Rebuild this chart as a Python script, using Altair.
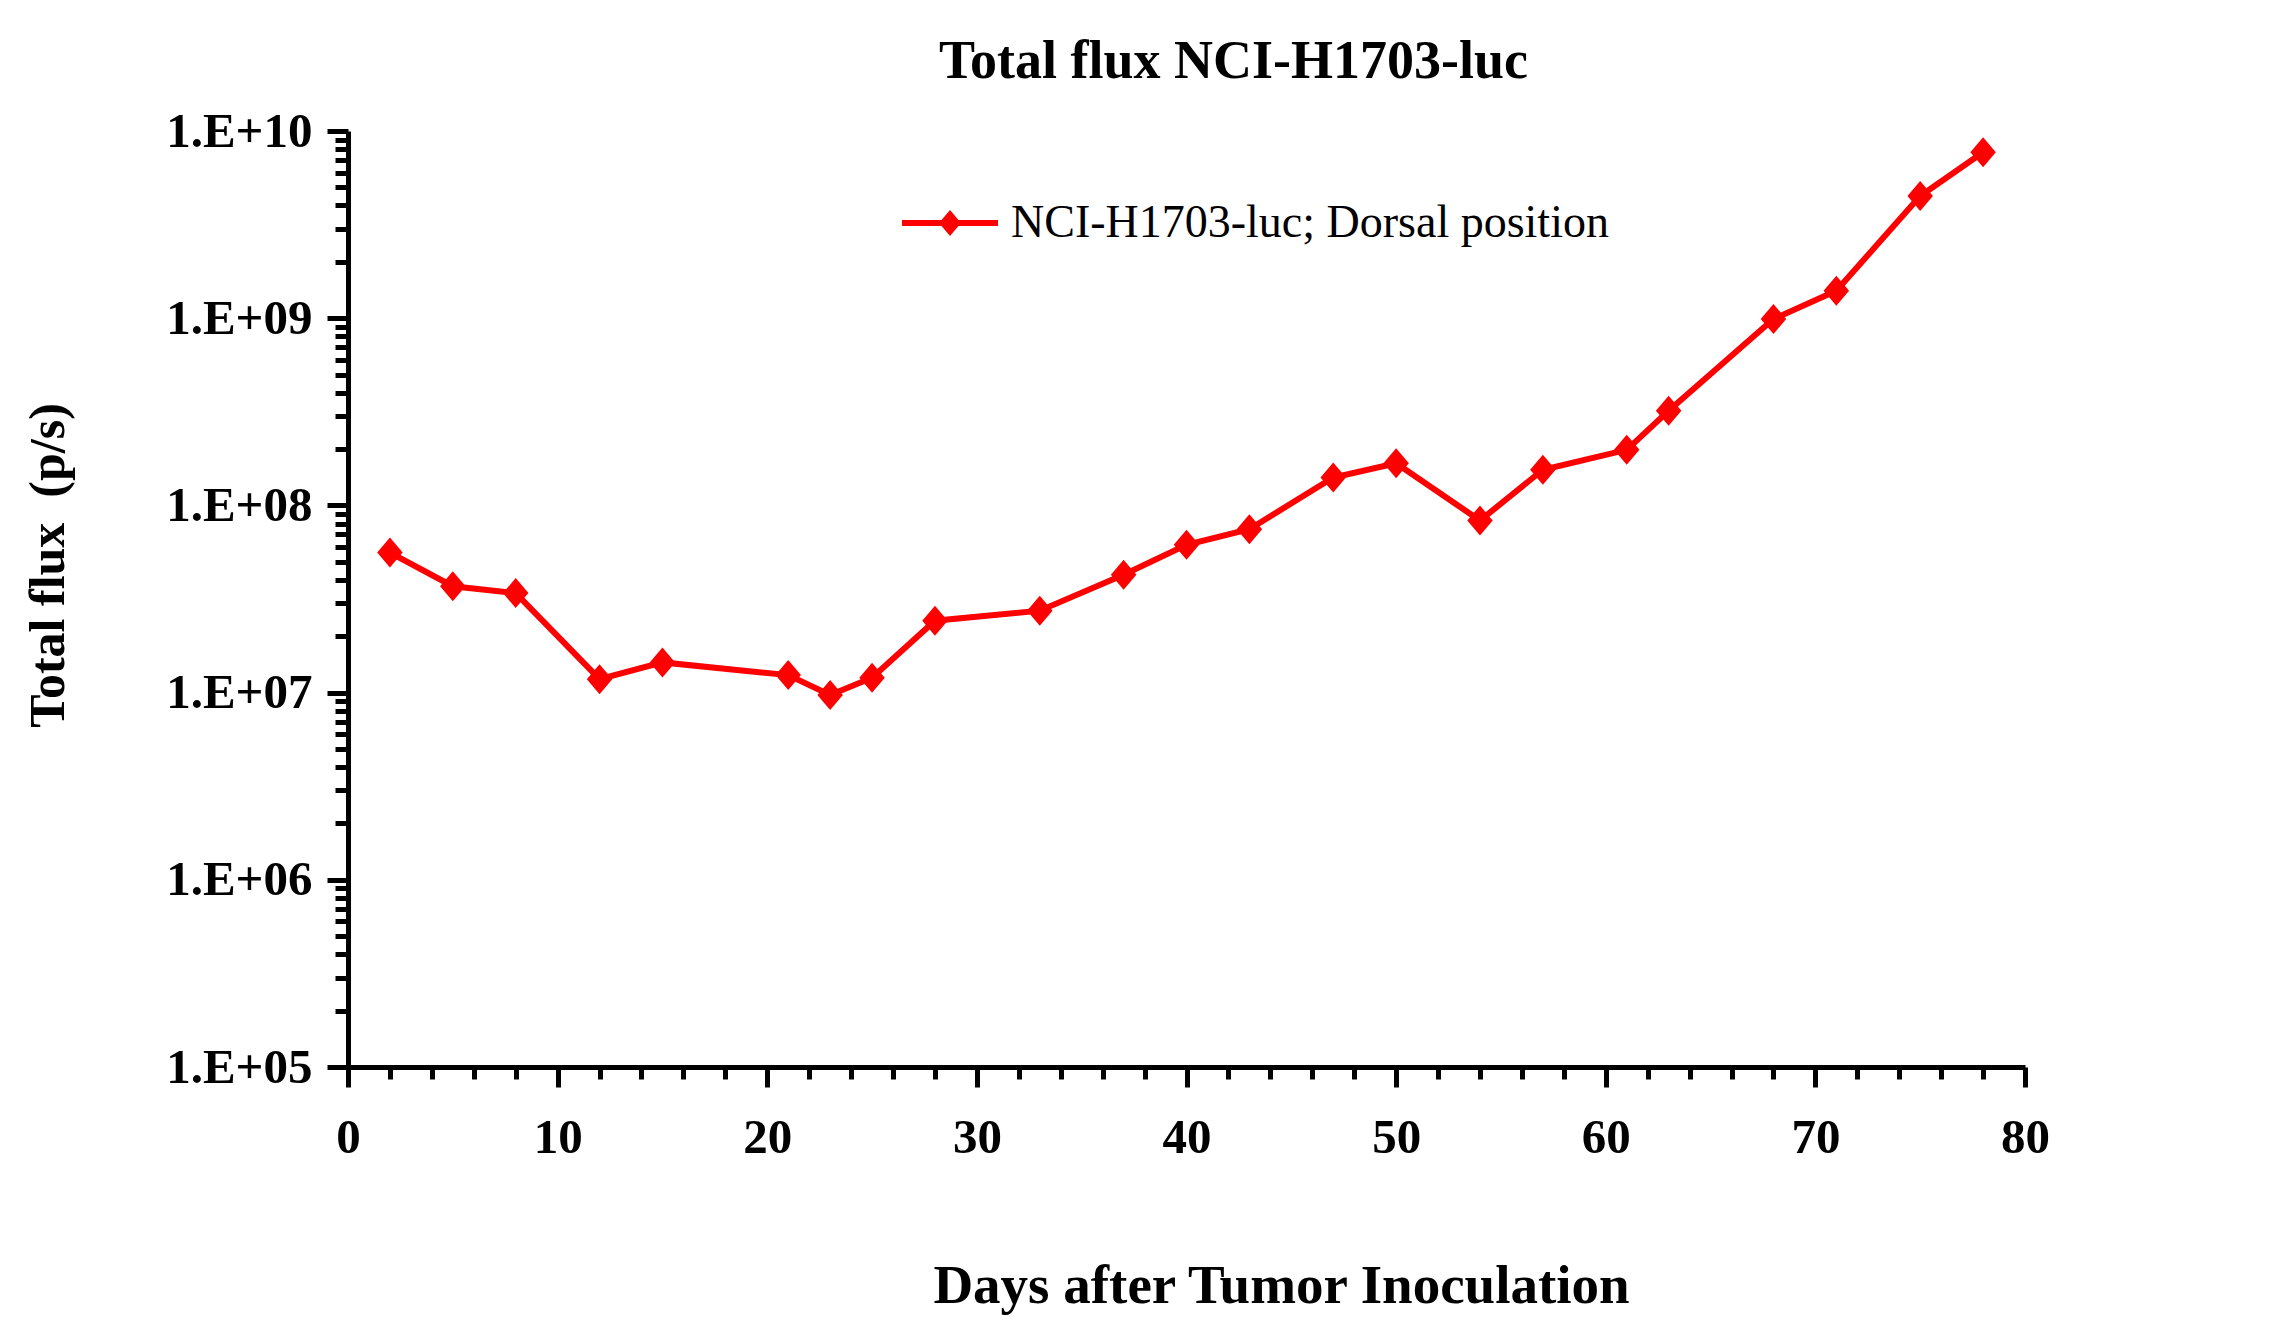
import altair as alt
import pandas as pd

# ---- data ----
days = [2, 5, 8, 12, 15, 21, 23, 25, 28, 33, 37, 40, 43, 47, 50, 54, 57, 61, 63, 68, 71, 75, 78]
flux = [5.6e7, 3.7e7, 3.4e7, 1.18e7, 1.45e7, 1.24e7, 9.7e6, 1.2e7, 2.42e7, 2.74e7, 4.26e7,
        6.16e7, 7.46e7, 1.41e8, 1.68e8, 8.3e7, 1.55e8, 1.98e8, 3.2e8, 9.9e8, 1.4e9, 4.5e9, 7.7e9]
series_name = "NCI-H1703-luc; Dorsal position"

x_ticks = list(range(0, 81, 2))          # majors every 10, minors every 2
y_decades = [5, 6, 7, 8, 9]
y_mult = [1, 2, 3, 4, 5, 6, 7, 8, 9]
y_ticks = [m * 10 ** d for d in y_decades for m in y_mult] + [10 ** 10]

df = pd.DataFrame({"day": days, "flux": flux, "series": [series_name] * len(days)})

FONT = "Liberation Serif"
RED = "#ff0000"

is_major_y = "abs(log(datum.value)/LN10 - round(log(datum.value)/LN10)) < 0.001"
exp_y = "round(log(datum.value)/LN10)"

x_enc = alt.X(
    "day:Q",
    scale=alt.Scale(domain=[0, 80], nice=False, zero=False),
    axis=alt.Axis(
        values=x_ticks,
        labelExpr="datum.value % 10 === 0 ? datum.label : ''",
        tickSize={"condition": {"test": "datum.value % 10 === 0", "value": 20}, "value": 12},
        labelPadding=26,
        labelFlush=False,
        title="Days after Tumor Inoculation",
        titleX=933, titleY=235, titleAlign="center", titleBaseline="alphabetic",
        titleAnchor="start",
        titleFontSize=55,
    ),
)
y_enc = alt.Y(
    "flux:Q",
    scale=alt.Scale(type="log", domain=[1e5, 1e10], nice=False),
    axis=alt.Axis(
        values=y_ticks,
        labelExpr=f"{is_major_y} ? '1.E+' + ({exp_y} < 10 ? '0' : '') + {exp_y} : ''",
        tickSize={"condition": {"test": is_major_y, "value": 21}, "value": 13},
        labelPadding=15,
        labelFlush=False,
        title="Total flux\u00a0\u00a0(p/s)",
        titleAngle=270,
        titleX=-285, titleY=434, titleAlign="center", titleBaseline="alphabetic",
        titleAnchor="start",
        titleFontSize=50,
    ),
)

line = alt.Chart(df).mark_line(color=RED, strokeWidth=6).encode(x=x_enc, y=y_enc)

legend_symbol = ("M-1,-0.0625L1,-0.0625L1,0.0625L-1,0.0625Z "
                 "M-0.229,0L0,-0.27L0.229,0L0,0.27Z")

points = alt.Chart(df).mark_point(
    filled=True, opacity=1, size=900, shape="M0,-1L0.85,0L0,1L-0.85,0Z", strokeWidth=0
).encode(
    x=alt.X("day:Q"),
    y=alt.Y("flux:Q"),
    color=alt.Color(
        "series:N",
        scale=alt.Scale(range=[RED]),
        legend=alt.Legend(
            title=None, orient="none", legendX=554, legendY=44,
            symbolType=legend_symbol, symbolSize=9216, symbolStrokeWidth=0,
            symbolFillColor=RED, symbolOpacity=1,
            labelFont=FONT, labelFontSize=46, labelFontWeight="normal",
            labelColor="black", labelOffset=13, labelLimit=2000, padding=0,
        ),
    ),
)

chart = alt.layer(line, points).properties(
    width=1677, height=936,
    autosize=alt.AutoSizeParams(type="none"),
    padding={"left": 340, "top": 123, "right": 250, "bottom": 262},
    title=alt.TitleParams(
        "Total flux NCI-H1703-luc",
        font=FONT, fontSize=54, fontWeight="bold", color="black",
        anchor="middle", frame="group", dx=47, dy=55, offset=30, baseline="alphabetic",
    ),
).configure_view(stroke=None).configure_axis(
    grid=False,
    domainColor="black", domainWidth=5,
    tickColor="black", tickWidth=5,
    labelFont=FONT, labelFontSize=49, labelFontWeight="bold", labelColor="black",
    titleFont=FONT, titleFontWeight="bold", titleColor="black",
    labelLimit=1000, titleLimit=2000,
)

chart.save("out.html", embed_options={"renderer": "svg", "actions": False})
